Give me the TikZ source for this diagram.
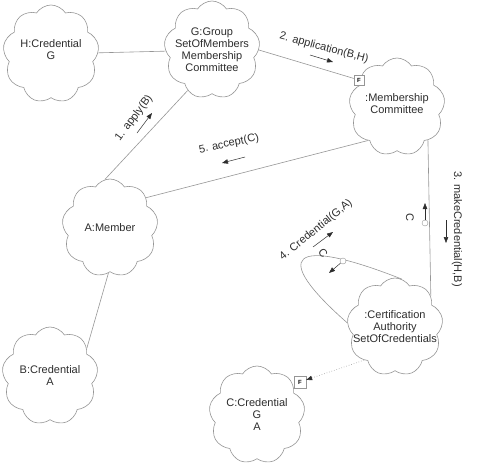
\documentclass[tikz,border=0pt]{standalone}
\usepackage{fontspec}
\setmainfont{Liberation Sans}
\usetikzlibrary{shapes.symbols,arrows.meta}
\definecolor{linegray}{RGB}{150,150,150}
\definecolor{textgray}{RGB}{45,45,45}
\tikzset{
  obj/.style={cloud, cloud puffs=9, cloud puff arc=115, aspect=1, draw=linegray,
    line width=0.6pt, fill=white, minimum width=96pt, minimum height=98pt, inner sep=0pt},
  objtext/.style={align=center, text=textgray, font=\fontsize{11}{12}\selectfont},
  fbox/.style={draw=linegray, fill=white, minimum size=10pt, inner sep=0pt,
    font=\fontsize{6}{6}\selectfont\bfseries},
  link/.style={draw=linegray, line width=0.6pt},
  tip/.style={-{Triangle[length=6pt,width=4.5pt,color=textgray]}},
  msg/.style={draw=textgray, line width=0.5pt, tip},
  msglabel/.style={text=textgray, font=\fontsize{11}{12}\selectfont, inner sep=0pt},
  token/.style={circle, draw=linegray, fill=white, minimum size=6pt, inner sep=0pt}
}
\begin{document}
\begin{tikzpicture}[x=1pt,y=-1pt]
  \useasboundingbox (0,0) rectangle (481,466);
  % objects
  \node[obj] (H) at (51,54) {};
  \node[obj] (G) at (212,50) {};
  \node[obj] (M) at (397,107) {};
  \node[obj] (A) at (110,228) {};
  \node[obj] (CA) at (395,327) {};
  \node[obj] (B) at (50,376) {};
  \node[obj] (C) at (257,415) {};
  \node[objtext] (Ht) at (51,50) {H:Credential\\G};
  \node[objtext] (Gt) at (G) {G:Group\\SetOfMembers\\Membership\\Committee};
  \node[objtext] (Mt) at (397,104) {:Membership\\Committee};
  \node[objtext] (At) at (A) {A:Member};
  \node[objtext] (CAt) at (CA) {:Certification\\Authority\\SetOfCredentials};
  \node[objtext] (Bt) at (B) {B:Credential\\A};
  \node[objtext] (Ct) at (C) {C:Credential\\G\\A};
  % links
  \node[fbox] (f1) at (359,80) {F};
  \node[fbox, minimum size=12pt] (f2) at (300,382) {F};
  \draw[link] (H) -- (G);
  \draw[link] (G.239) -- (A.96);
  \draw[link] (G.east) -- (f1);
  \draw[link] (M.229) -- (A.40);
  \draw[link] (M.313) -- (CA.41);
  \draw[link] (A.268) -- (B.37);
  \draw[link] (CA.82) .. controls (290,235) and (270,255) .. (CA.175);
  \draw[link, dotted, tip] (CA.227) -- (f2);
  % messages
  \node[msglabel, rotate=53] (m1) at (134,118) {1. apply(B)};
  \node[msglabel, rotate=-15] (m2) at (324,48) {2. application(B,H)};
  \node[msglabel, rotate=-90] (m3) at (457,229) {3. makeCredential(H,B)};
  \node[msglabel, rotate=39] (m4) at (316,230) {4. Credential(G,A)};
  \node[msglabel, rotate=12] (m5) at (229,144) {5. accept(C)};
  \foreach \n/\sx/\sy/\ex/\ey in {1/137/133/152/113, 2/310/55/333/62,
      3/446/220/446/243, 4/313/247/333/232, 5/245/157/222/163} {
    \coordinate (m\n s) at (\sx,\sy);
    \coordinate (m\n e) at (\ex,\ey);
    \draw[msg] (m\n s) -- (m\n e);
  }
  % returned credential
  \node[token] (t1) at (425,223) {};
  \coordinate (t1e) at (425,203);
  \draw[msg] (t1) -- (t1e);
  \node[msglabel, rotate=-90] (c1) at (410,217) {C};
  \node[token] (t2) at (343,261) {};
  \coordinate (t2e) at (329,273);
  \draw[msg] (t2) -- (t2e);
  \node[msglabel, rotate=-50] (c2) at (323,253) {C};
\end{tikzpicture}
\end{document}
